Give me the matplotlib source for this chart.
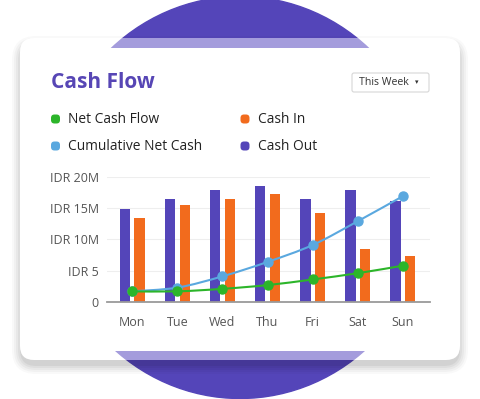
import matplotlib.pyplot as plt
import numpy as np
from matplotlib.patches import FancyBboxPatch, Ellipse, Rectangle, PathPatch
from matplotlib.path import Path

days = ["Mon", "Tue", "Wed", "Thu", "Fri", "Sat", "Sun"]
cash_out = [14.9, 16.4, 17.8, 18.5, 16.4, 17.8, 16.2]
cash_in = [13.4, 15.5, 16.4, 17.2, 14.2, 8.4, 7.3]
net_flow = [1.7, 1.7, 2.1, 2.7, 3.6, 4.6, 5.8]
cumulative = [1.7, 2.3, 4.1, 6.4, 9.1, 12.9, 16.9]
y_ticks = [0, 5, 10, 15, 20]
y_labels = ["0", "IDR 5", "IDR 10M", "IDR 15M", "IDR 20M"]

PURPLE = "#5445b9"
ORANGE = "#f26b1d"
GREEN = "#2cb52a"
BLUE = "#5aa8df"
LIGHTP = "#a49cdc"
FONT = "Open Sans"

W, H = 480, 399
fig = plt.figure(figsize=(W / 100, H / 100), dpi=100)
fig.patch.set_facecolor("white")

# background layer in pixel coordinates (y down)
bg = fig.add_axes([0, 0, 1, 1])
bg.set_xlim(0, W)
bg.set_ylim(H, 0)
bg.axis("off")

blob = dict(xy=(240, 197.5), width=384, height=402)
bg.add_patch(Ellipse(color=PURPLE, zorder=0, **blob))

# card shadow
for i, a in enumerate([0.025, 0.03, 0.035, 0.04, 0.05]):
    g = 10 - 2 * i
    bg.add_patch(FancyBboxPatch((20 - g + 2, 38 - g + 8), 440 + 2 * g - 4, 322 + 2 * g - 4,
                                boxstyle="round,pad=0,rounding_size=%d" % (14 + g),
                                fc="black", ec="none", alpha=a, zorder=1))
card = FancyBboxPatch((20, 38), 440, 322, boxstyle="round,pad=0,rounding_size=14",
                      fc="white", ec="none", zorder=2)
bg.add_patch(card)

# lighter bands where the blob shows through the card edges
for y0 in (38, 350.5):
    band = Ellipse(color=LIGHTP, zorder=3, **blob)
    bg.add_patch(band)
    clip = Rectangle((0, y0), W, 9.8, transform=bg.transData)
    band.set_clip_path(clip)

bg.text(51, 83, "Cash Flow", fontsize=15, fontweight="bold", color="#5746b5",
        family=FONT, va="center", ha="left", zorder=5)

bg.add_patch(FancyBboxPatch((352, 73), 77, 19, boxstyle="round,pad=0,rounding_size=2",
                            fc="white", ec="#d6d6d6", lw=0.8, zorder=5))
bg.text(359, 82.5, "This Week", fontsize=7.6, color="#333333", family=FONT,
        va="center", ha="left", zorder=6)
bg.text(417, 82.5, "▾", fontsize=5, color="#333333", family="DejaVu Sans",
        va="center", ha="center", zorder=6)

legend = [("Net Cash Flow", GREEN, 55.5, 119), ("Cash In", ORANGE, 245, 119),
          ("Cumulative Net Cash", BLUE, 55.5, 146), ("Cash Out", PURPLE, 245, 146)]
for label, col, lx, ly in legend:
    bg.add_patch(FancyBboxPatch((lx - 4.5, ly - 4.5), 9, 9, boxstyle="round,pad=0,rounding_size=3.5",
                                fc=col, ec="none", zorder=5))
    bg.text(lx + 12.5, ly + 0.5, label, fontsize=9.9, color="#222222", family=FONT,
            va="center", ha="left", zorder=5)

# chart
x0, x1, ytop, ybot = 107, 430, 176.7, 302
ax = fig.add_axes([x0 / W, (H - ybot) / H, (x1 - x0) / W, (ybot - ytop) / H])
ax.patch.set_alpha(0)
x = np.arange(len(days))
bw = 0.23
off = 0.163
ax.bar(x - off, cash_out, bw, color=PURPLE, zorder=3)
ax.bar(x + off, cash_in, bw, color=ORANGE, zorder=3)


def smooth_path(xs, ys):
    pts = np.column_stack([xs, ys]).astype(float)
    verts = [pts[0]]
    codes = [Path.MOVETO]
    n = len(pts)
    for i in range(n - 1):
        p0 = pts[max(i - 1, 0)]
        p1 = pts[i]
        p2 = pts[i + 1]
        p3 = pts[min(i + 2, n - 1)]
        c1 = p1 + (p2 - p0) / 6
        c2 = p2 - (p3 - p1) / 6
        verts += [c1, c2, p2]
        codes += [Path.CURVE4] * 3
    return Path(verts, codes)


for series, col, z in [(cumulative, BLUE, 4), (net_flow, GREEN, 5)]:
    ax.add_patch(PathPatch(smooth_path(x, series), fc="none", ec=col, lw=1.5, zorder=z))
    ax.plot(x, series, "o", color=col, ms=6.5, zorder=z, clip_on=False)

ax.set_xlim(-0.56, 6.6)
ax.set_ylim(0, 20)
ax.set_yticks(y_ticks)
ax.set_yticklabels(y_labels)
ax.set_xticks(x)
ax.set_xticklabels(days)
ax.grid(axis="y", color="#eeeeee", lw=0.8, zorder=0)
for s in ["top", "right", "left"]:
    ax.spines[s].set_visible(False)
ax.spines["bottom"].set_color("#9a9a9a")
ax.spines["bottom"].set_linewidth(1.3)
ax.spines["bottom"].set_zorder(6)
ax.tick_params(length=0, labelsize=9, colors="#555555")
ax.tick_params(axis="x", pad=10)
ax.tick_params(axis="y", pad=6)
for t in ax.get_xticklabels() + ax.get_yticklabels():
    t.set_family(FONT)

fig.savefig("out.png", dpi=100)
